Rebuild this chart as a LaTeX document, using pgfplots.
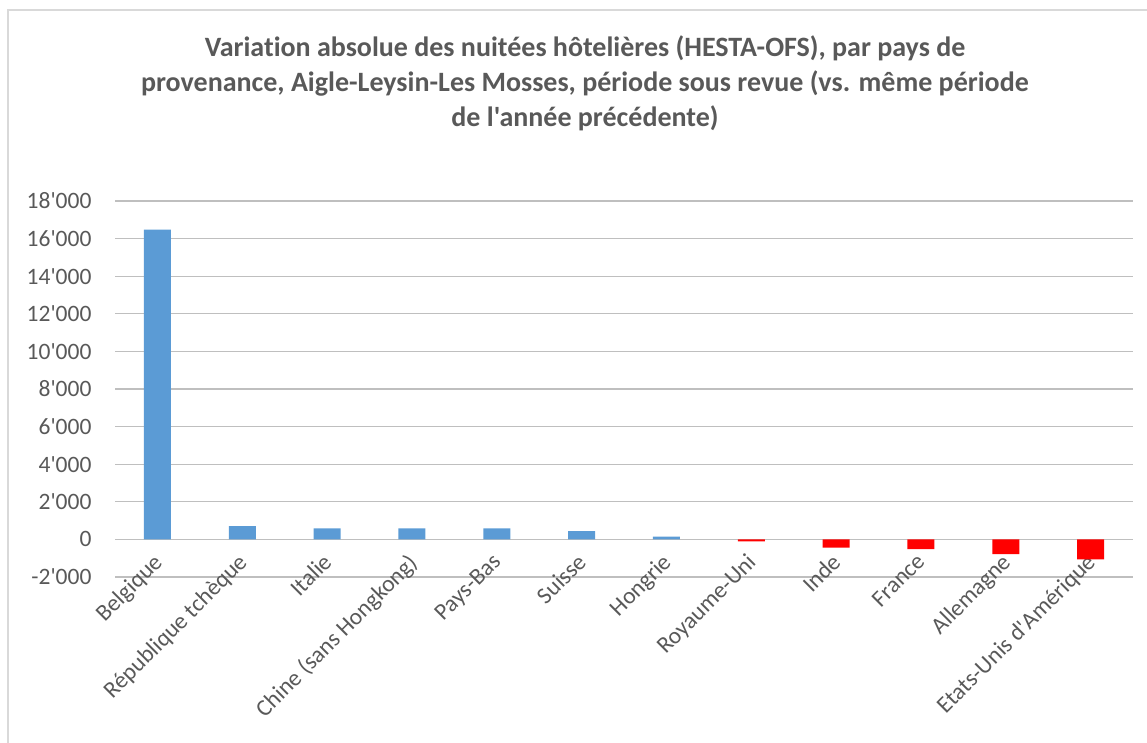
\documentclass[border=0pt]{standalone}
\usepackage{fontspec}
\setmainfont{Carlito}[Ligatures={TeXOff,CommonOff}]
\usepackage{pgfplots}
\pgfplotsset{compat=1.18}
\definecolor{txt}{HTML}{595959}
\definecolor{grid}{HTML}{D9D9D9}
\definecolor{barblue}{HTML}{5B9BD5}
\definecolor{barred}{HTML}{FF0000}
\begin{document}
\begin{tikzpicture}
\path[use as bounding box] (0,0) rectangle (1147pt,742pt);
\draw[grid, line width=2pt] (8pt,-10pt) -- (8pt,732pt) -- (1160pt,732pt);
\node[align=center, text=txt, font=\fontsize{28}{35}\selectfont\bfseries, anchor=north] at (585pt,710pt)
{Variation absolue des nuitées hôtelières (HESTA-OFS), par pays de\\
provenance, Aigle-Leysin-Les Mosses, période sous revue (vs. même période\\
de l'année précédente)};
\begin{axis}[
  at={(115pt,165pt)}, anchor=south west,
  width=1018pt, height=376pt, scale only axis,
  ybar, bar width=27pt,
  xmin=-0.5, xmax=11.5, ymin=-2000, ymax=18000,
  ytick={-2000,0,2000,4000,6000,8000,10000,12000,14000,16000,18000},
  scaled y ticks=false,
  xtick={0,1,2,3,4,5,6,7,8,9,10,11},
  xticklabels={Belgique,République tchèque,Italie,Chine (sans Hongkong),Pays-Bas,Suisse,Hongrie,Royaume-Uni,Inde,France,Allemagne,Etats-Unis d'Amérique},
  xmajorgrids=false, ymajorgrids, grid style={grid, line width=1.2pt},
  axis line style={draw=none}, major tick length=0pt,
  xtick style={draw=none}, ytick style={draw=none},
  tick label style={text=txt, font=\fontsize{23.5}{28}\selectfont},
  yticklabel style={xshift=-20pt},
  xticklabel style={rotate=45, anchor=north east, xshift=17pt, yshift=25pt},
  /pgf/number format/.cd, 1000 sep={'}, assume math mode=true,
]
\addplot[fill=barblue, draw=none, bar shift=0pt] coordinates {(0,16480) (1,700) (2,590) (3,590) (4,590) (5,440) (6,150)};
\addplot[fill=barred, draw=none, bar shift=0pt] coordinates {(7,-100) (8,-440) (9,-515) (10,-780) (11,-1065)};
\end{axis}
\end{tikzpicture}
\end{document}
